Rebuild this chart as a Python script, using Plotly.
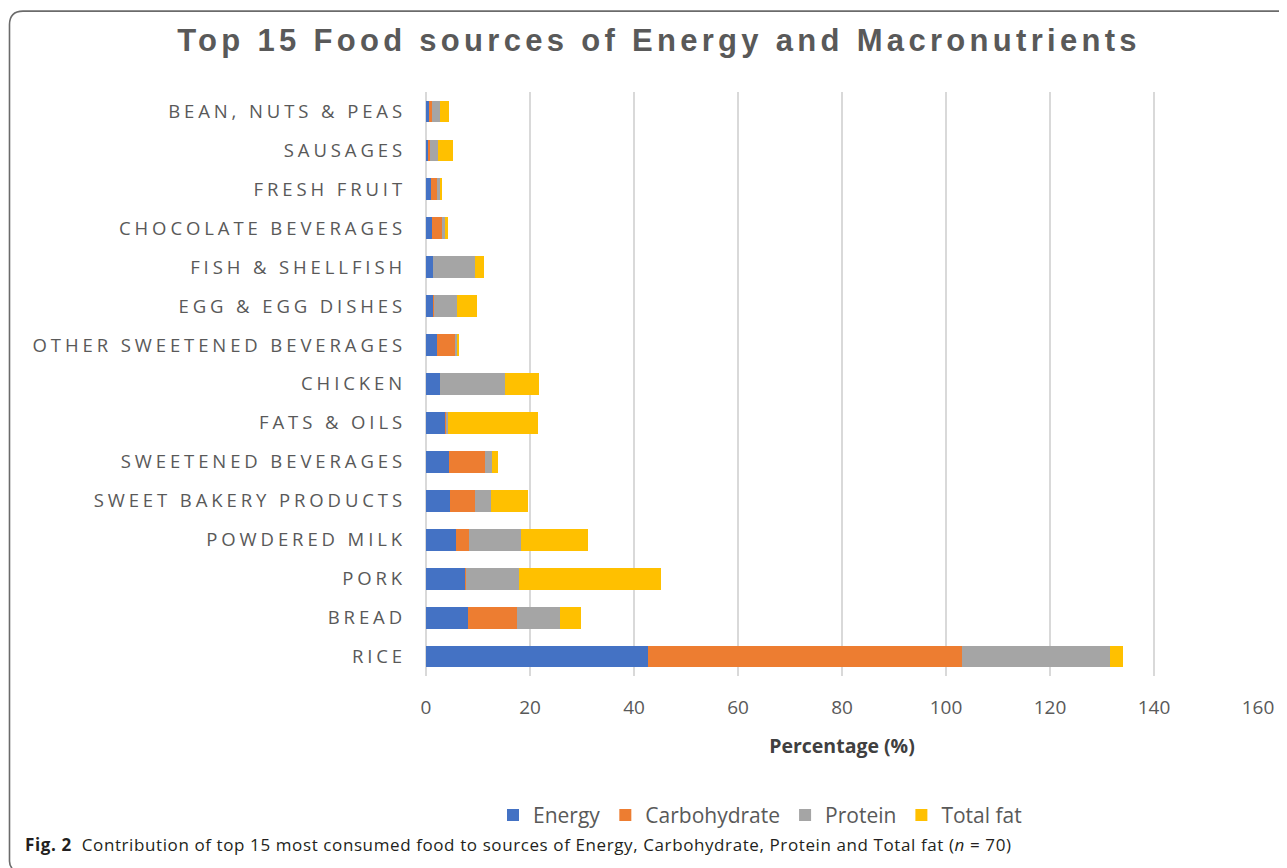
import plotly.graph_objects as go

categories = ["RICE", "BREAD", "PORK", "POWDERED MILK", "SWEET BAKERY PRODUCTS",
              "SWEETENED BEVERAGES", "FATS & OILS", "CHICKEN", "OTHER SWEETENED BEVERAGES",
              "EGG & EGG DISHES", "FISH & SHELLFISH", "CHOCOLATE BEVERAGES", "FRESH FRUIT",
              "SAUSAGES", "BEAN, NUTS & PEAS"]
energy = [42.7, 8.1, 7.5, 5.7, 4.7, 4.5, 3.7, 2.7, 2.1, 1.4, 1.4, 1.1, 0.9, 0.5, 0.5]
carbohydrate = [60.4, 9.4, 0.2, 2.6, 4.7, 6.8, 0.3, 0.0, 3.4, 0.1, 0.0, 1.9, 1.3, 0.3, 0.7]
protein = [28.4, 8.3, 10.1, 10.0, 3.1, 1.4, 0.2, 12.4, 0.5, 4.5, 8.0, 0.7, 0.5, 1.6, 1.4]
total_fat = [2.6, 4.1, 27.3, 12.9, 7.2, 1.1, 17.4, 6.7, 0.4, 3.9, 1.7, 0.6, 0.2, 2.8, 1.9]
x_ticks = [0, 20, 40, 60, 80, 100, 120, 140, 160]

series = [("Energy", energy, "#4472C4"),
          ("Carbohydrate", carbohydrate, "#ED7D31"),
          ("Protein", protein, "#A5A5A5"),
          ("Total fat", total_fat, "#FFC000")]

# page body has an 8px margin; work in window coordinates and shift
OFF = 8
W, H = 1287 - OFF, 868 - OFF
L, R, T, B = 426 - OFF, 1258 - OFF, 91.5 - OFF, 676.5 - OFF


def px(x):
    return (x - OFF - L) / (R - L)


def py(y):
    return (B - (y - OFF)) / (B - T)


fig = go.Figure()
for name, vals, col in series:
    fig.add_trace(go.Bar(y=categories, x=vals, name=name, orientation="h",
                         marker=dict(color=col, line=dict(width=0))))

ticktext = ['<span style="letter-spacing:3.9px">%s</span>' % c for c in categories]

fig.update_layout(
    width=W, height=H,
    barmode="stack", bargap=0.44,
    paper_bgcolor="white", plot_bgcolor="white",
    margin=dict(l=L, r=W - R, t=T, b=H - B, autoexpand=False),
    font=dict(family="Open Sans", color="#595959"),
    xaxis=dict(range=[0, 160], tickvals=x_ticks, showgrid=True, gridcolor="#d9d9d9",
               gridwidth=1.5, zeroline=True, zerolinecolor="#d9d9d9", zerolinewidth=1.5,
               showline=False, ticks="", tickfont=dict(size=19, color="#595959"),
               ticklabelstandoff=18,
               title=dict(text="<b>Percentage (%)</b>", font=dict(size=19.5, color="#404040"),
                          standoff=20),
               automargin=False, fixedrange=True),
    yaxis=dict(categoryorder="array", categoryarray=categories, tickvals=categories,
               ticktext=ticktext, showgrid=False, showline=False, ticks="",
               tickfont=dict(size=18.5, color="#595959"), ticklabelstandoff=19,
               automargin=False, fixedrange=True),
    title=dict(text='<span style="letter-spacing:4.3px"><b>Top 15 Food sources of Energy and Macronutrients</b></span>',
               font=dict(family="Liberation Sans", size=31, color="#595959"),
               x=(659 - OFF) / W, xref="container", xanchor="center",
               y=1 - (40 - OFF) / H, yref="container", yanchor="middle"),
    legend=dict(orientation="h", x=px(760), xanchor="center", y=py(816), yanchor="middle",
                font=dict(size=21, color="#595959"), traceorder="normal",
                bgcolor="rgba(0,0,0,0)", itemwidth=30),
    showlegend=True,
)

fig.add_annotation(
    text='<span style="letter-spacing:0.6px"><b>Fig. 2</b>  Contribution of top 15 most consumed food to sources of Energy, Carbohydrate, Protein and Total fat (<i>n</i> = 70)</span>',
    xref="paper", yref="paper", x=px(23), y=py(845), xanchor="left", yanchor="middle",
    showarrow=False, font=dict(family="Open Sans", size=17, color="#231f20"))

# rounded border frame
path = "M %f %f L %f %f Q %f %f %f %f L %f %f Q %f %f %f %f" % (
    px(1290), py(10.5), px(23), py(10.5), px(9.5), py(10.5), px(9.5), py(24),
    px(9.5), py(862), px(9.5), py(866), px(12), py(869))
fig.add_shape(type="path", path=path, xref="paper", yref="paper",
              line=dict(color="#6b6b6b", width=1.6))

fig.write_html("out.html")
